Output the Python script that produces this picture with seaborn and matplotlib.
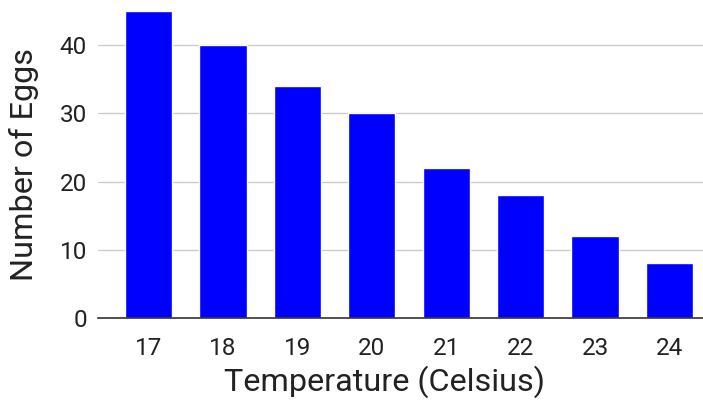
import matplotlib
matplotlib.use("Agg")
import matplotlib.pyplot as plt
import seaborn as sns
import pandas as pd

# Données
temperatures = ["17", "18", "19", "20", "21", "22", "23", "24"]
eggs = [45, 40, 34, 30, 22, 18, 12, 8]
y_ticks = [0, 10, 20, 30, 40]

df = pd.DataFrame({"Temperature": temperatures, "Eggs": eggs})

sns.set_theme(style="white")
plt.rcParams["font.family"] = ["Roboto", "DejaVu Sans"]

fig = plt.figure(figsize=(7.03, 4.0), dpi=100)
ax = fig.add_axes([98 / 703, 82 / 400, 1 - 98 / 703, 318 / 400])

sns.barplot(data=df, x="Temperature", y="Eggs", color="#0000ff", saturation=1,
            width=0.635, ax=ax, zorder=3)

ax.set_xlim(-0.68, 7.45)
ax.set_ylim(0, 46.6)
ax.set_yticks(y_ticks)
ax.grid(axis="y", color="#cccccc", linewidth=1, zorder=0)
ax.grid(axis="x", visible=False)

for side in ["top", "right", "left"]:
    ax.spines[side].set_visible(False)
ax.spines["bottom"].set_color("#333333")
ax.spines["bottom"].set_linewidth(1.2)
ax.spines["bottom"].set_zorder(4)

ax.tick_params(axis="both", length=0, labelsize=17.5, labelcolor="#222222")
ax.tick_params(axis="x", pad=14)
ax.tick_params(axis="y", pad=8)

ax.set_xlabel("Temperature (Celsius)", fontsize=23.3, color="#222222")
ax.set_ylabel("Number of Eggs", fontsize=23.3, color="#222222")
# position des titres d'axes (centre du texte)
ax.xaxis.set_label_coords(0.473, -64 / 318)
ax.yaxis.set_label_coords(-74 / 605, 0.484)
ax.xaxis.label.set_va("center")
ax.yaxis.label.set_va("center")

fig.savefig("out.png", dpi=100)
plt.close(fig)
